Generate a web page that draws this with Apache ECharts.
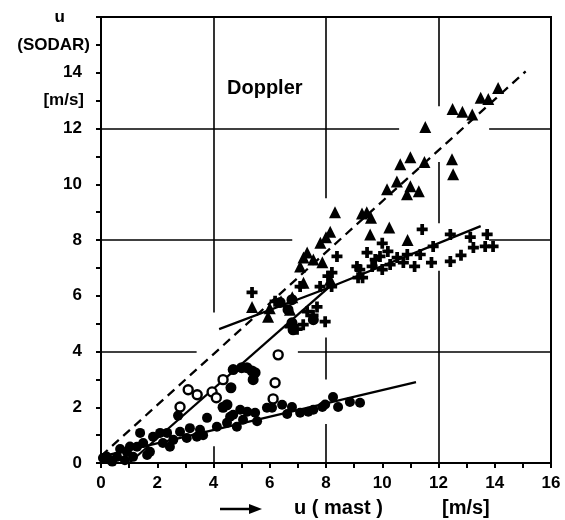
<!DOCTYPE html>
<html>
<head>
<meta charset="utf-8">
<title>Doppler SODAR vs mast</title>
<script src="https://cdn.jsdelivr.net/npm/echarts@6/dist/echarts.min.js"></script>
<style>
  html, body { margin: 0; padding: 0; background: #fff; }
  #doppler-chart { width: 565px; height: 520px; }
</style>
</head>
<body>
<div id="doppler-chart"></div>
<script>
// tick labels (index = axis value)
const xTickLabels = ['0', '', '2', '', '4', '', '6', '', '8', '', '10', '', '12', '', '14', '', '16']
const yTickLabels = ['0', '', '2', '', '4', '', '6', '', '8', '', '10', '', '12', '[m/s]', '14', '(SODAR)', 'u']

const triangles = [
  [5.37, 5.6], [5.94, 5.25], [6.0, 5.55], [6.4, 5.8], [6.72, 5.5], [6.8, 5.95], [7.08, 7.05],
  [7.2, 6.47], [7.2, 7.37], [7.33, 7.55], [7.55, 7.3], [7.8, 7.9], [7.87, 7.2], [8.0, 8.1],
  [8.15, 8.3], [8.15, 6.58], [8.32, 9.0], [9.28, 8.95], [9.45, 9.0], [9.6, 8.8], [9.57, 8.2],
  [10.25, 8.45], [10.9, 8.0], [10.17, 9.82], [10.52, 10.1], [10.64, 10.72], [10.88, 9.64],
  [11.0, 9.93], [11.0, 10.97], [11.3, 9.75], [11.5, 10.8], [11.53, 12.05], [12.48, 10.9],
  [12.52, 10.36], [12.5, 12.7], [12.85, 12.6], [13.2, 12.5], [13.5, 13.1], [13.77, 13.06],
  [14.12, 13.45]
]
const crosses = [
  [5.37, 6.12], [6.19, 5.8], [6.72, 4.89], [6.97, 4.8], [7.19, 4.96], [7.33, 5.43], [7.54, 5.3],
  [7.68, 5.6], [7.97, 5.07], [8.07, 6.7], [8.2, 6.33], [8.21, 6.83], [8.39, 7.41], [7.08, 6.33],
  [7.79, 6.33], [9.1, 7.05], [9.14, 6.65], [9.2, 6.94], [9.3, 6.65], [9.46, 7.55], [9.64, 7.05],
  [9.75, 7.3], [9.92, 7.41], [10.0, 7.88], [10.0, 6.94], [10.2, 7.59], [10.28, 7.12],
  [10.53, 7.37], [10.75, 7.19], [10.89, 7.48], [11.15, 7.05], [11.35, 7.48], [11.42, 8.38],
  [11.75, 7.19], [11.81, 7.77], [12.42, 8.2], [12.42, 7.23], [12.8, 7.45], [13.13, 8.1],
  [13.24, 7.73], [13.66, 7.77], [13.73, 8.2], [13.94, 7.77]
]
const dotsLow = [
  [0.07, 0.18], [0.2, 0.23], [0.32, 0.11], [0.4, 0.05], [0.57, 0.22], [0.68, 0.5], [0.85, 0.1],
  [0.92, 0.4], [1.03, 0.59], [1.14, 0.22], [1.28, 0.58], [1.39, 1.08], [1.5, 0.72], [1.64, 0.29],
  [1.74, 0.4], [1.85, 0.94], [2.1, 1.08], [2.2, 0.72], [2.35, 1.08], [2.45, 0.58], [2.57, 0.83],
  [2.74, 1.7], [2.81, 1.12], [3.05, 0.9], [3.16, 1.25], [3.41, 0.94], [3.52, 1.19], [3.63, 1.0],
  [3.77, 1.62], [4.12, 1.3], [4.48, 1.44], [4.59, 1.66], [4.7, 1.73], [4.83, 1.3], [4.95, 1.91],
  [5.05, 1.55], [5.2, 1.84], [5.48, 1.8], [5.55, 1.5], [5.9, 1.98], [6.08, 1.98], [6.44, 2.09],
  [6.62, 1.76], [6.79, 2.01], [7.08, 1.8], [7.37, 1.84], [7.55, 1.91], [7.87, 2.01], [7.97, 2.1],
  [8.25, 2.37], [8.43, 2.01], [8.85, 2.19], [9.21, 2.16]
]
const dotsSteep = [
  [4.34, 2.0], [4.48, 2.09], [4.62, 2.7], [4.7, 3.35], [5.0, 3.42], [5.19, 3.42], [5.41, 2.99],
  [5.48, 3.24], [5.37, 3.3], [6.79, 5.03], [6.83, 4.78], [7.55, 5.14], [6.37, 5.76], [6.65, 5.5],
  [6.79, 5.86]
]
const openCircles = [
  [2.81, 2.01], [3.1, 2.63], [3.42, 2.45], [3.95, 2.55], [4.1, 2.34], [4.34, 2.99],
  [6.12, 2.3], [6.19, 2.88], [6.3, 3.88]
]

// drawn regression lines
const dashedLine = [[0, 0.25], [15.1, 14.05]]
const upperLine = [[4.2, 4.8], [8.0, 6.25], [13.5, 8.5]]
const steepLine = [[1.0, 0.0], [8.1, 6.3]]
const lowerLine = [[0.3, 0.3], [11.2, 2.9]]

// grid lines every 4 m/s, interrupted where the original clears them around the data
const gridSegments = [
  [[4, 5.4], [4, 16]], [[4, 0], [4, 0.6]],
  [[8, 9.5], [8, 16]], [[8, 3.0], [8, 4.5]], [[8, 0], [8, 1.4]],
  [[12, 12.8], [12, 16]], [[12, 8.6], [12, 10.8]], [[12, 0], [12, 6.9]],
  [[0, 4], [3.4, 4]], [[7.0, 4], [16, 4]],
  [[0, 8], [6.8, 8]], [[13.8, 8], [16, 8]],
  [[0, 12], [10.6, 12]], [[13.8, 12], [16, 12]]
]

const FONT = '"Liberation Sans", Arial, sans-serif'
const CROSS = 'path://M3.3,0H6.7V3.3H10V6.7H6.7V10H3.3V6.7H0V3.3H3.3Z'

const chart = echarts.init(document.getElementById('doppler-chart'), null, { renderer: 'canvas' })

function scatter(name, data, symbol, size, itemStyle) {
  return {
    name,
    type: 'scatter',
    data,
    symbol,
    symbolSize: size,
    itemStyle: itemStyle || { color: '#000', opacity: 1 },
    silent: true,
    z: 3
  }
}

function line(name, data, type) {
  return {
    name,
    type: 'line',
    data,
    showSymbol: false,
    silent: true,
    lineStyle: { color: '#000', width: 2.3, type: type || 'solid', opacity: 1 },
    z: 2
  }
}

const labelStyle = { fontFamily: FONT, fontWeight: 'bold', fontSize: 17, color: '#000' }

chart.setOption({
  backgroundColor: '#fff',
  animation: false,
  grid: {
    left: 101,
    right: 14,
    top: 17,
    bottom: 57,
    show: true,
    borderColor: '#000',
    borderWidth: 2,
    outerBoundsMode: 'none'
  },
  xAxis: {
    type: 'value',
    min: 0,
    max: 16,
    interval: 1,
    axisLine: { show: true, lineStyle: { color: '#000', width: 2 } },
    axisTick: { show: true, inside: false, length: 5, lineStyle: { color: '#000', width: 2 } },
    splitLine: { show: false },
    axisLabel: Object.assign({
      margin: 12,
      formatter: v => xTickLabels[Math.round(v)] || ''
    }, labelStyle)
  },
  yAxis: {
    type: 'value',
    min: 0,
    max: 16,
    interval: 1,
    axisLine: { show: true, lineStyle: { color: '#000', width: 2 } },
    axisTick: { show: true, inside: false, length: 5, lineStyle: { color: '#000', width: 2 } },
    splitLine: { show: false },
    axisLabel: Object.assign({
      margin: 11,
      formatter: v => {
        const t = yTickLabels[Math.round(v)]
        if (!t) return ''
        if (t === 'u') return '{u|u}'
        if (t === '(SODAR)') return '{s|' + t + '}'
        if (t === '[m/s]') return '{m|' + t + '}'
        return '{n|' + t + '}'
      },
      rich: {
        n: Object.assign({ padding: [0, 8, 0, 0] }, labelStyle),
        s: Object.assign({ padding: [0, 0, 0, 0] }, labelStyle),
        m: Object.assign({ padding: [0, 6, 0, 0] }, labelStyle),
        u: Object.assign({ padding: [0, 25, 0, 0] }, labelStyle)
      }
    }, labelStyle)
  },
  graphic: [{
    type: 'text',
    left: 227,
    top: 78,
    style: { text: 'Doppler', font: 'bold 20px ' + FONT, fill: '#000' }
  }, {
    type: 'line',
    shape: { x1: 220, y1: 509, x2: 252, y2: 509 },
    style: { stroke: '#000', lineWidth: 2.5 }
  }, {
    type: 'polygon',
    shape: { points: [[249, 504], [262, 509], [249, 514]] },
    style: { fill: '#000' }
  }, {
    type: 'text',
    left: 294,
    top: 498,
    style: { text: 'u ( mast )', font: 'bold 20px ' + FONT, fill: '#000' }
  }, {
    type: 'text',
    left: 442,
    top: 498,
    style: { text: '[m/s]', font: 'bold 20px ' + FONT, fill: '#000' }
  }],
  series: [
    {
      name: 'grid',
      type: 'line',
      data: [],
      silent: true,
      z: 1,
      markLine: {
        silent: true,
        symbol: 'none',
        animation: false,
        label: { show: false },
        lineStyle: { color: '#000', width: 1.6, type: 'solid' },
        data: gridSegments.map(s => [{ coord: s[0] }, { coord: s[1] }])
      }
    },
    line('1:1', dashedLine, [9, 6]),
    line('fit upper', upperLine),
    line('fit steep', steepLine),
    line('fit lower', lowerLine),
    scatter('dots', dotsLow, 'circle', 10),
    scatter('dots steep', dotsSteep, 'circle', 11),
    scatter('open', openCircles, 'circle', 9, { color: '#fff', borderColor: '#000', borderWidth: 2.4, opacity: 1 }),
    scatter('crosses', crosses, CROSS, 11),
    scatter('triangles', triangles, 'triangle', 12)
  ]
})
</script>
</body>
</html>
